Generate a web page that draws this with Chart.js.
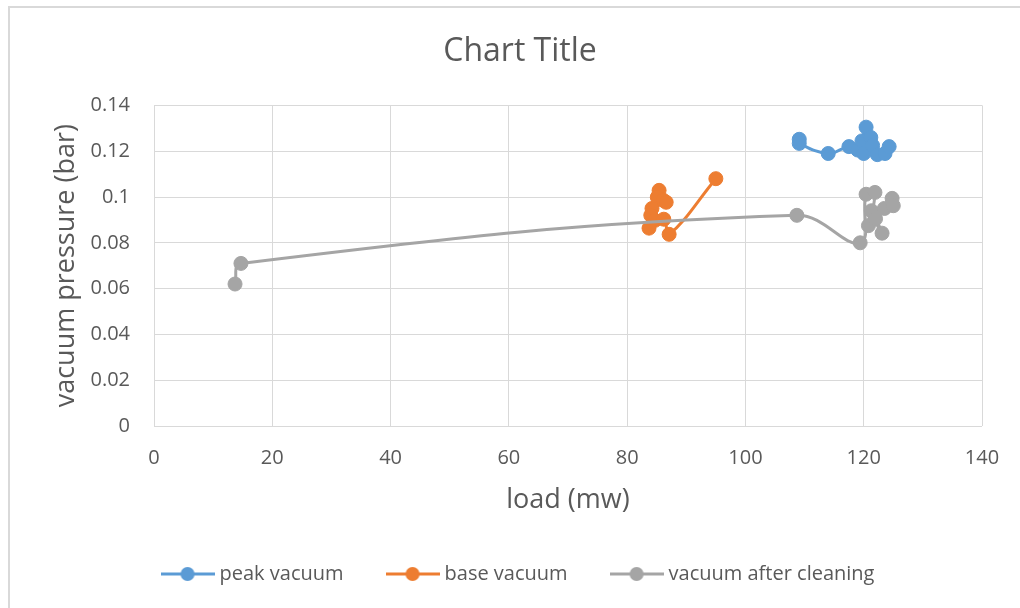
<!DOCTYPE html>
<html>
<head>
<meta charset="utf-8">
<title>vacuum pressure vs load</title>
<script src="https://cdn.jsdelivr.net/npm/chart.js@4.4.1/dist/chart.umd.min.js"></script>
<style>
    html, body { margin: 0; padding: 0; background: #fff; overflow: hidden; }
    #wrap { width: 1020px; height: 608px; overflow: hidden; }
</style>
</head>
<body>
<div id="wrap"><canvas id="chart" width="1040" height="608"></canvas></div>
<script>
// values
const peakLoad = [109.1, 109.1, 114.0, 117.5, 119.0, 119.7, 120.4, 121.2, 120.0, 121.5, 122.3, 123.6, 124.3];
const peakVacuum = [0.1252, 0.1234, 0.119, 0.122, 0.1205, 0.1245, 0.1305, 0.126, 0.119, 0.1225, 0.1185, 0.119, 0.122];

const baseLoad = [85.4, 85.1, 86.1, 86.6, 84.2, 84.0, 84.7, 83.7, 86.2, 87.1, 95.0];
const baseVacuum = [0.1029, 0.0999, 0.0986, 0.0977, 0.095, 0.092, 0.0898, 0.0864, 0.0903, 0.0837, 0.108];

const cleanLoad = [13.7, 14.7, 108.7, 119.4, 120.4, 121.9, 120.8, 121.3, 123.1, 122.0, 123.5, 124.8, 125.0];
const cleanVacuum = [0.062, 0.071, 0.092, 0.080, 0.1012, 0.102, 0.0875, 0.094, 0.0842, 0.0905, 0.095, 0.0994, 0.0962];

const seriesNames = ['peak vacuum', 'base vacuum', 'vacuum after cleaning'];
const seriesColors = ['#5B9BD5', '#ED7D31', '#A5A5A5'];

const xTicks = [0, 20, 40, 60, 80, 100, 120, 140];
const yTicks = [0, 0.02, 0.04, 0.06, 0.08, 0.1, 0.12, 0.14];

const textColor = '#595959';
const gridColor = '#d9d9d9';
const fontFamily = '"Open Sans", "Noto Sans", sans-serif';

const toPoints = (xs, ys) => xs.map((x, i) => ({ x: x, y: ys[i] }));

// little line + marker images for the legend, like Excel draws them
const legendIcon = color => {
    const c = document.createElement('canvas');
    c.width = 54;
    c.height = 18;
    const g = c.getContext('2d');
    g.strokeStyle = color;
    g.lineWidth = 3;
    g.beginPath();
    g.moveTo(0, 9);
    g.lineTo(54, 9);
    g.stroke();
    g.fillStyle = color;
    g.beginPath();
    g.arc(27, 9, 7, 0, Math.PI * 2);
    g.fill();
    return c;
};
const legendIcons = seriesColors.map(legendIcon);

const makeSeries = (i, xs, ys, order) => ({
    label: seriesNames[i],
    data: toPoints(xs, ys),
    showLine: true,
    tension: 0.4,
    borderColor: seriesColors[i],
    backgroundColor: seriesColors[i],
    borderWidth: 3,
    pointRadius: 7,
    pointBorderWidth: 1,
    pointHoverRadius: 7,
    order: order
});

// white background plus the outer chart border (top and left edges visible)
const chartFrame = {
    id: 'chartFrame',
    beforeDraw(chart) {
        const ctx = chart.ctx;
        ctx.save();
        ctx.fillStyle = '#ffffff';
        ctx.fillRect(0, 0, chart.width, chart.height);
        ctx.fillStyle = '#d9d9d9';
        ctx.fillRect(8, 6, 2, chart.height - 6);
        ctx.fillRect(8, 6, chart.width - 8, 2);
        ctx.restore();
    }
};

new Chart(document.getElementById('chart').getContext('2d'), {
    type: 'scatter',
    data: {
        datasets: [
            makeSeries(0, peakLoad, peakVacuum, 3),
            makeSeries(1, baseLoad, baseVacuum, 2),
            makeSeries(2, cleanLoad, cleanVacuum, 1)
        ]
    },
    options: {
        responsive: false,
        animation: false,
        layout: { padding: { left: 50, right: 50, top: 0, bottom: 14 } },
        plugins: {
            title: {
                display: true,
                text: 'Chart Title',
                color: textColor,
                font: { family: fontFamily, size: 32, weight: 'normal' },
                padding: { top: 33, bottom: 34 }
            },
            legend: {
                position: 'bottom',
                labels: {
                    color: textColor,
                    font: { family: fontFamily, size: 20 },
                    usePointStyle: true,
                    pointStyleWidth: 44,
                    padding: 47,
                    sort: (a, b) => a.datasetIndex - b.datasetIndex,
                    generateLabels: chart => {
                        const items = Chart.defaults.plugins.legend.labels.generateLabels(chart);
                        items.forEach(item => {
                            item.pointStyle = legendIcons[item.datasetIndex];
                            item.fontColor = textColor;
                        });
                        return items;
                    }
                }
            },
            tooltip: { enabled: false }
        },
        scales: {
            x: {
                type: 'linear',
                min: xTicks[0],
                max: xTicks[xTicks.length - 1],
                afterBuildTicks: s => { s.ticks = xTicks.map(v => ({ value: v })); },
                afterFit: s => { s.height = 91; },
                grid: { color: gridColor, drawTicks: false },
                border: { display: false },
                ticks: {
                    color: textColor,
                    font: { family: fontFamily, size: 20 },
                    padding: 20
                },
                title: {
                    display: true,
                    text: 'load (mw)',
                    color: textColor,
                    font: { family: fontFamily, size: 27 },
                    padding: 0
                }
            },
            y: {
                type: 'linear',
                position: 'left',
                min: yTicks[0],
                max: yTicks[yTicks.length - 1],
                afterBuildTicks: s => { s.ticks = yTicks.map(v => ({ value: v })); },
                afterFit: s => { s.width = 104; },
                grid: { color: gridColor, drawTicks: false },
                border: { display: false },
                ticks: {
                    color: textColor,
                    font: { family: fontFamily, size: 20 },
                    padding: 24,
                    // Excel style: 0.1 rather than 0.10
                    callback: v => String(parseFloat(Number(v).toFixed(2)))
                },
                title: {
                    display: true,
                    text: 'vacuum pressure (bar)',
                    color: textColor,
                    font: { family: fontFamily, size: 27 },
                    padding: 0
                }
            },
            // empty right axis, only there to keep the plot's right edge where Excel put it
            yRight: {
                type: 'linear',
                position: 'right',
                display: true,
                min: 0,
                max: 1,
                afterFit: s => { s.width = 8; },
                grid: { display: false },
                border: { display: false },
                ticks: { display: false }
            }
        }
    },
    plugins: [chartFrame]
});
</script>
</body>
</html>
